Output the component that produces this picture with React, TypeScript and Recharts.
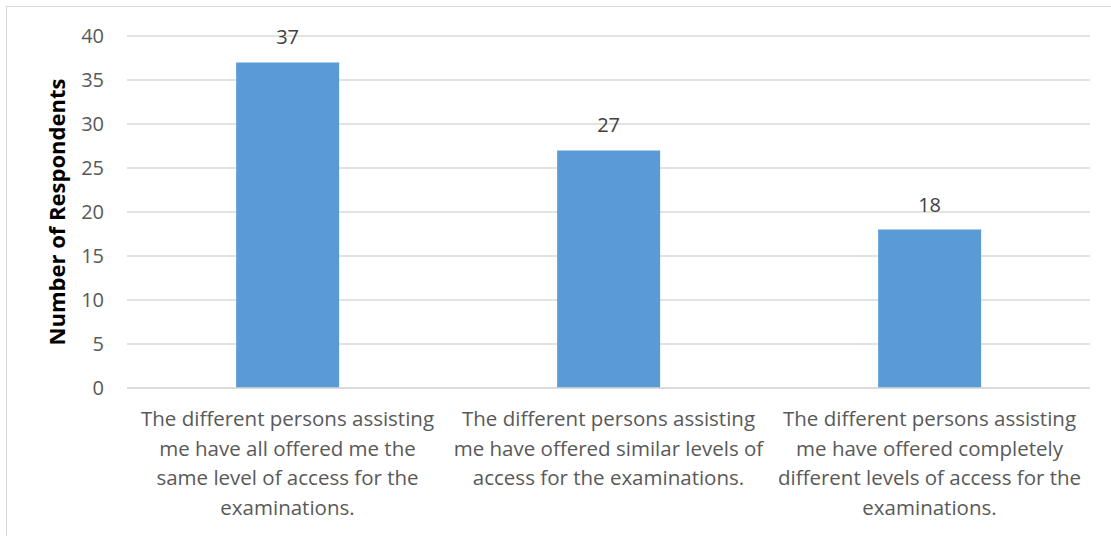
import React from "react";
import {
  BarChart,
  Bar,
  XAxis,
  YAxis,
  CartesianGrid,
  LabelList,
} from "recharts";

const categories = [
  "The different persons assisting\nme have all offered me the\nsame level of access for the\nexaminations.",
  "The different persons assisting\nme have offered similar levels of\naccess for the examinations.",
  "The different persons assisting\nme have offered completely\ndifferent levels of access for the\nexaminations.",
];
const respondents = [37, 27, 18];
const yTicks = [0, 5, 10, 15, 20, 25, 30, 35, 40];

const data = categories.map((c, i) => ({ name: c, value: respondents[i] }));

const FONT = "'Open Sans', sans-serif";

// eslint-disable-next-line @typescript-eslint/no-explicit-any
const CategoryTick = (props: any) => {
  const { x, y, payload } = props;
  const lines = String(payload.value).split("\n");
  return (
    <g transform={`translate(${x},${y})`}>
      {lines.map((line: string, i: number) => (
        <text
          key={i}
          x={0}
          y={22 + i * 29.5}
          textAnchor="middle"
          dominantBaseline="central"
          fill="#595959"
          fontSize={20.5}
          fontFamily={FONT}
        >
          {line}
        </text>
      ))}
    </g>
  );
};

export default function App() {
  return (
    <div
      style={{
        position: "absolute",
        left: 0,
        top: 0,
        width: 1111,
        height: 536,
        overflow: "hidden",
        background: "#fff",
      }}
    >
      <div
        style={{
          position: "absolute",
          left: 6,
          top: 6,
          width: 1200,
          height: 600,
          border: "1px solid #d9d9d9",
        }}
      />
      <div style={{ position: "absolute", left: 0, top: 0 }}>
        <BarChart
          width={1111}
          height={536}
          data={data}
          margin={{ top: 36, right: 21, bottom: 0, left: 0 }}
          barCategoryGap="34%"
        >
          <CartesianGrid vertical={false} stroke="#d9d9d9" strokeWidth={1.3} />
          <XAxis
            dataKey="name"
            tickLine={false}
            axisLine={{ stroke: "#d9d9d9", strokeWidth: 1.3 }}
            tick={<CategoryTick />}
            interval={0}
            height={148}
          />
          <YAxis
            width={127}
            domain={[0, 40]}
            ticks={yTicks}
            interval={0}
            tickLine={false}
            axisLine={false}
            tickSize={0}
            tickMargin={23}
            tick={{ fill: "#595959", fontSize: 20, fontFamily: FONT }}
            label={{
              value: "Number of Respondents",
              angle: -90,
              position: "insideLeft",
              dx: 52,
              style: {
                textAnchor: "middle",
                fontWeight: 700,
                fontSize: 22,
                fontFamily: FONT,
                fill: "#000",
              },
            }}
          />
          <Bar dataKey="value" fill="#5b9bd5" isAnimationActive={false}>
            <LabelList
              dataKey="value"
              position="top"
              offset={18}
              fill="#404040"
              fontSize={20}
              fontFamily={FONT}
            />
          </Bar>
        </BarChart>
      </div>
    </div>
  );
}
